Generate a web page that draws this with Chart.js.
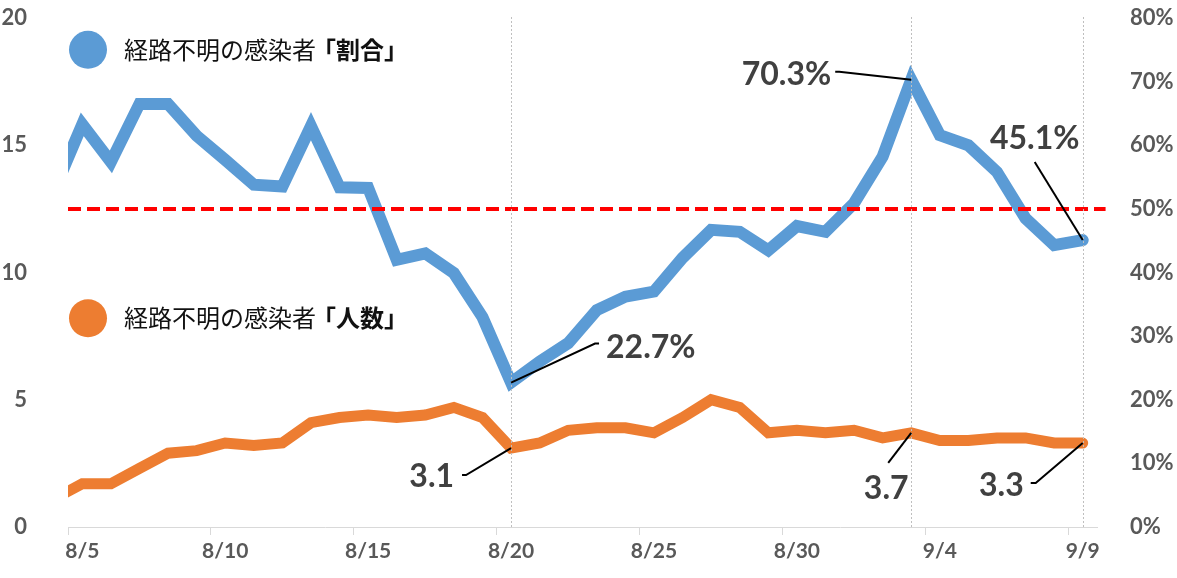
<!DOCTYPE html>
<html>
<head>
<meta charset="utf-8">
<script src="https://cdn.jsdelivr.net/npm/chart.js@4/dist/chart.umd.min.js"></script>
<style>
  html, body { margin: 0; padding: 0; background: #fff; }
  #wrap { width: 1177px; height: 578px; }
</style>
</head>
<body>
<div id="wrap"><canvas id="chart"></canvas></div>
<script>
// days shown (8/4 sits just left of the axis and gets clipped, like the original)
const dayLabels = ['8/4','8/5','8/6','8/7','8/8','8/9','8/10','8/11','8/12','8/13','8/14','8/15',
  '8/16','8/17','8/18','8/19','8/20','8/21','8/22','8/23','8/24','8/25','8/26','8/27','8/28',
  '8/29','8/30','8/31','9/1','9/2','9/3','9/4','9/5','9/6','9/7','9/8','9/9'];

// 経路不明の感染者「割合」 (%), right axis
const pctValues = [52.7, 63.3, 57.4, 66.5, 66.5, 61.5, 57.7, 53.8, 53.5, 63.0, 53.4, 53.3,
  42.0, 43.0, 39.9, 33.0, 22.7, 26.0, 28.9, 34.1, 36.2, 37.0, 42.3, 46.7, 46.4,
  43.5, 47.3, 46.4, 50.9, 58.2, 70.3, 61.6, 60.0, 55.8, 48.5, 44.3, 45.1];

// 経路不明の感染者「人数」, left axis
const countValues = [1.1, 1.7, 1.7, 2.3, 2.9, 3.0, 3.3, 3.2, 3.3, 4.1, 4.3, 4.4,
  4.3, 4.4, 4.7, 4.3, 3.1, 3.3, 3.8, 3.9, 3.9, 3.7, 4.3, 5.0, 4.7,
  3.7, 3.8, 3.7, 3.8, 3.5, 3.7, 3.4, 3.4, 3.5, 3.5, 3.3, 3.3];

const tickLabels = ['8/5', '8/10', '8/15', '8/20', '8/25', '8/30', '9/4', '9/9'];
const thresholdPct = 50;
const markedDays = ['8/20', '9/3', '9/9'];

const BLUE = '#5b9bd5';
const ORANGE = '#ed7d31';
const TICK_GRAY = '#595959';

const dayIndex = d => dayLabels.indexOf(d) - 1;   // 8/5 -> 0
const pts = vals => vals.map((v, i) => ({ x: i - 1, y: v }));

// callouts: which series / day, plus where the label sits relative to the point
const callouts = [
  { axis: 'yR', vals: pctValues,   day: '8/20', text: '22.7%', line: [[84, -39], [88, -39]], tx: 95,  ty: -35, align: 'left' },
  { axis: 'yR', vals: pctValues,   day: '9/3',  text: '70.3%', line: [[-72, -8], [-76, -8]], tx: -80, ty: -5,  align: 'right' },
  { axis: 'yR', vals: pctValues,   day: '9/9',  text: '45.1%', line: [[-48, -78]],           tx: -48, ty: -101, align: 'center' },
  { axis: 'y',  vals: countValues, day: '8/20', text: '3.1',   line: [[-45, 27], [-49, 27]], tx: -57, ty: 29,  align: 'right' },
  { axis: 'y',  vals: countValues, day: '9/3',  text: '3.7',   line: [[-23, 30]],            tx: -25, ty: 56,  align: 'center' },
  { axis: 'y',  vals: countValues, day: '9/9',  text: '3.3',   line: [[-47, 40], [-52, 40]], tx: -59, ty: 43,  align: 'right' }
];

const legendItems = [
  { color: BLUE,   plain: '経路不明の感染者', bold: '「割合」', axis: 'y', at: 18.75 },
  { color: ORANGE, plain: '経路不明の感染者', bold: '「人数」', axis: 'y', at: 8.2 }
];

const overlay = {
  id: 'overlay',
  afterDatasetsDraw(chart) {
    const { ctx, chartArea, scales } = chart;
    ctx.save();

    // dotted reference lines
    ctx.strokeStyle = '#bfbfbf';
    ctx.lineWidth = 1;
    ctx.setLineDash([2, 2]);
    markedDays.forEach(d => {
      const x = Math.round(scales.x.getPixelForValue(dayIndex(d))) + 0.5;
      ctx.beginPath();
      ctx.moveTo(x, chartArea.top - 1);
      ctx.lineTo(x, chartArea.bottom);
      ctx.stroke();
    });
    ctx.setLineDash([]);

    // callouts
    callouts.forEach(c => {
      const i = dayLabels.indexOf(c.day);
      const px = scales.x.getPixelForValue(i - 1);
      const py = scales[c.axis].getPixelForValue(c.vals[i]);
      ctx.strokeStyle = '#000';
      ctx.lineWidth = 2;
      ctx.beginPath();
      ctx.moveTo(px, py);
      c.line.forEach(([dx, dy]) => ctx.lineTo(px + dx, py + dy));
      ctx.stroke();
      ctx.fillStyle = '#404040';
      ctx.font = 'bold 32px Lato, "Liberation Sans", sans-serif';
      ctx.textAlign = c.align;
      ctx.textBaseline = 'middle';
      ctx.fillText(c.text, px + c.tx, py + c.ty);
    });

    // legend
    legendItems.forEach(l => {
      const cy = scales[l.axis].getPixelForValue(l.at);
      ctx.fillStyle = l.color;
      ctx.beginPath();
      ctx.arc(88, cy, 19, 0, Math.PI * 2);
      ctx.fill();
      ctx.fillStyle = '#111';
      ctx.textAlign = 'left';
      ctx.textBaseline = 'middle';
      ctx.font = '24px "Noto Sans CJK JP", sans-serif';
      ctx.fillText(l.plain, 124, cy);
      const w = ctx.measureText(l.plain).width;
      ctx.font = 'bold 24px "Noto Sans CJK JP", sans-serif';
      ctx.fillText(l.bold, 124 + w - 4, cy);
    });
    ctx.restore();
  }
};

// keep the tick padding from pushing the plot area down
const fixY = w => scale => {
  scale.width = w;
  scale.paddingTop = 0;
  scale.paddingBottom = 0;
};

new Chart(document.getElementById('chart'), {
  type: 'line',
  data: {
    datasets: [
      {
        label: '50%',
        data: [{ x: -0.5, y: thresholdPct }, { x: 35.8, y: thresholdPct }],
        yAxisID: 'yR',
        borderColor: '#ff0000',
        borderWidth: 4,
        borderDash: [13, 6],
        pointRadius: 0,
        clip: false
      },
      {
        label: '経路不明の感染者「割合」',
        data: pts(pctValues),
        yAxisID: 'yR',
        borderColor: BLUE,
        borderWidth: 12,
        borderCapStyle: 'round',
        pointRadius: 0,
        tension: 0,
        clip: 0
      },
      {
        label: '経路不明の感染者「人数」',
        data: pts(countValues),
        yAxisID: 'y',
        borderColor: ORANGE,
        borderWidth: 11,
        borderCapStyle: 'round',
        pointRadius: 0,
        tension: 0,
        clip: 0
      }
    ]
  },
  options: {
    responsive: true,
    maintainAspectRatio: false,
    animation: false,
    events: [],
    layout: { padding: { top: 18, left: 0, right: 0, bottom: 0 } },
    scales: {
      x: {
        type: 'linear',
        min: -0.5,
        max: 35.5,
        afterBuildTicks(scale) {
          scale.ticks = tickLabels.map((_, i) => ({ value: i * 5 - 0.5 }));
        },
        afterFit(scale) { scale.height = 51; },
        ticks: {
          callback: (v, i) => tickLabels[i],
          autoSkip: false,
          maxRotation: 0,
          labelOffset: 14.3,
          padding: 4,
          color: TICK_GRAY,
          font: { family: 'Lato', weight: 'bold', size: 21 }
        },
        grid: { display: true, drawOnChartArea: false, drawTicks: true, tickLength: 8, color: '#d9d9d9' },
        border: { display: true, color: '#d9d9d9', width: 1 }
      },
      y: {
        position: 'left',
        min: 0,
        max: 20,
        afterFit: fixY(68),
        ticks: {
          stepSize: 5,
          padding: 33,
          color: TICK_GRAY,
          font: { family: 'Lato', weight: 'bold', size: 22 }
        },
        grid: { display: false },
        border: { display: false }
      },
      yR: {
        position: 'right',
        min: 0,
        max: 80,
        afterFit: fixY(80),
        ticks: {
          stepSize: 10,
          padding: 25,
          color: TICK_GRAY,
          callback: v => v + '%',
          font: { family: 'Lato', weight: 'bold', size: 22 }
        },
        grid: { display: false },
        border: { display: false }
      }
    },
    plugins: {
      legend: { display: false },
      tooltip: { enabled: false }
    }
  },
  plugins: [overlay]
});
</script>
</body>
</html>
